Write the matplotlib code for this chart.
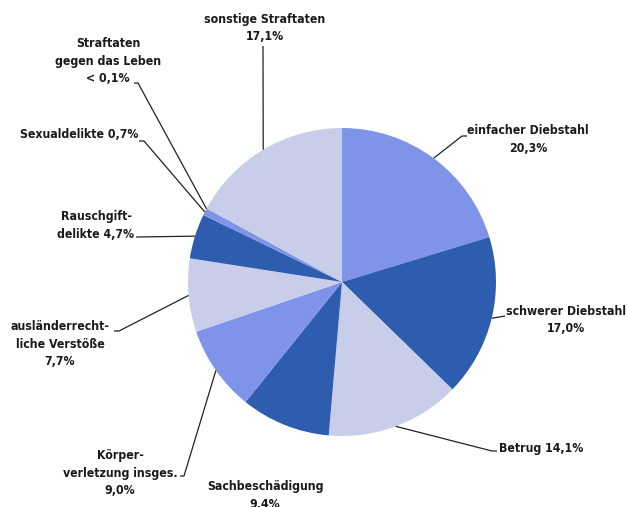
import numpy as np
import matplotlib.pyplot as plt

# Anteile der Straftaten (in %), im Uhrzeigersinn ab 12 Uhr
categories = ['einfacher Diebstahl', 'schwerer Diebstahl', 'Betrug', 'Sachbeschädigung',
              'Körperverletzung insges.', 'ausländerrechtliche Verstöße', 'Rauschgiftdelikte',
              'Sexualdelikte', 'Straftaten gegen das Leben', 'sonstige Straftaten']
shares = [20.3, 17.0, 14.1, 9.4, 9.0, 7.7, 4.7, 0.7, 0.05, 17.1]
labels = ['einfacher Diebstahl\n20,3%', 'schwerer Diebstahl\n17,0%', 'Betrug 14,1%',
          'Sachbeschädigung\n9,4%', 'Körper-\nverletzung insges.\n9,0%',
          'ausländerrecht-\nliche Verstöße\n7,7%', 'Rauschgift-\ndelikte 4,7%',
          'Sexualdelikte 0,7%', 'Straftaten\ngegen das Leben\n< 0,1%', 'sonstige Straftaten\n17,1%']

MED, DARK, LIGHT = '#7f93e8', '#2e5cae', '#c8cdea'
colors = [MED, DARK, LIGHT, DARK, MED, LIGHT, DARK, MED, DARK, LIGHT]

# label layout in pixel coords (y from top): first-line centre, alignment, elbow, line end
layout = [
    ((467, 131), 'left', (462, 136), (467, 136)),
    ((506, 312), 'left', (505, 316), (505, 316)),
    ((499, 449), 'left', (492, 451), (497, 451)),
    ((265, 487), 'center', None, None),
    ((120, 456), 'center', (184, 476), (180, 476)),
    ((60, 327), 'center', (119, 331), (114, 331)),
    ((96, 217), 'center', (136, 237), (136, 237)),
    ((20, 135), 'left', (144, 141), (139, 141)),
    ((108, 44), 'center', (138, 83), (134, 83)),
    ((265, 20), 'center', (263, 46), (263, 46)),
]

W, H = 627, 507
cx, cy, R = 342, 282, 154

plt.rcParams['font.family'] = ['DejaVu Sans']
fig = plt.figure(figsize=(6.27, 5.07), dpi=100)
ax = fig.add_axes([0, 0, 1, 1])
ax.axis('off')

wedges, _ = ax.pie(shares, colors=colors, startangle=90, counterclock=False,
                   center=(cx, H - cy), radius=R, wedgeprops=dict(linewidth=0))
ax.set_xlim(0, W)
ax.set_ylim(0, H)
ax.set_aspect('equal')

for w, lab, (tpos, ha, elbow, end) in zip(wedges, labels, layout):
    ang = np.deg2rad((w.theta1 + w.theta2) / 2)
    px = cx + R * np.cos(ang)
    py = (H - cy) + R * np.sin(ang)
    if elbow is not None:
        ax.plot([px, elbow[0], end[0]], [py, H - elbow[1], H - end[1]],
                color='#222222', lw=0.9, solid_capstyle='butt')
    ax.text(tpos[0], H - tpos[1] + 7, lab, ha=ha, va='top', fontsize=8.8,
            fontweight='bold', fontstretch='condensed', color='#1a1a1a',
            linespacing=1.45, multialignment='center')

fig.savefig('out.png', dpi=100)
